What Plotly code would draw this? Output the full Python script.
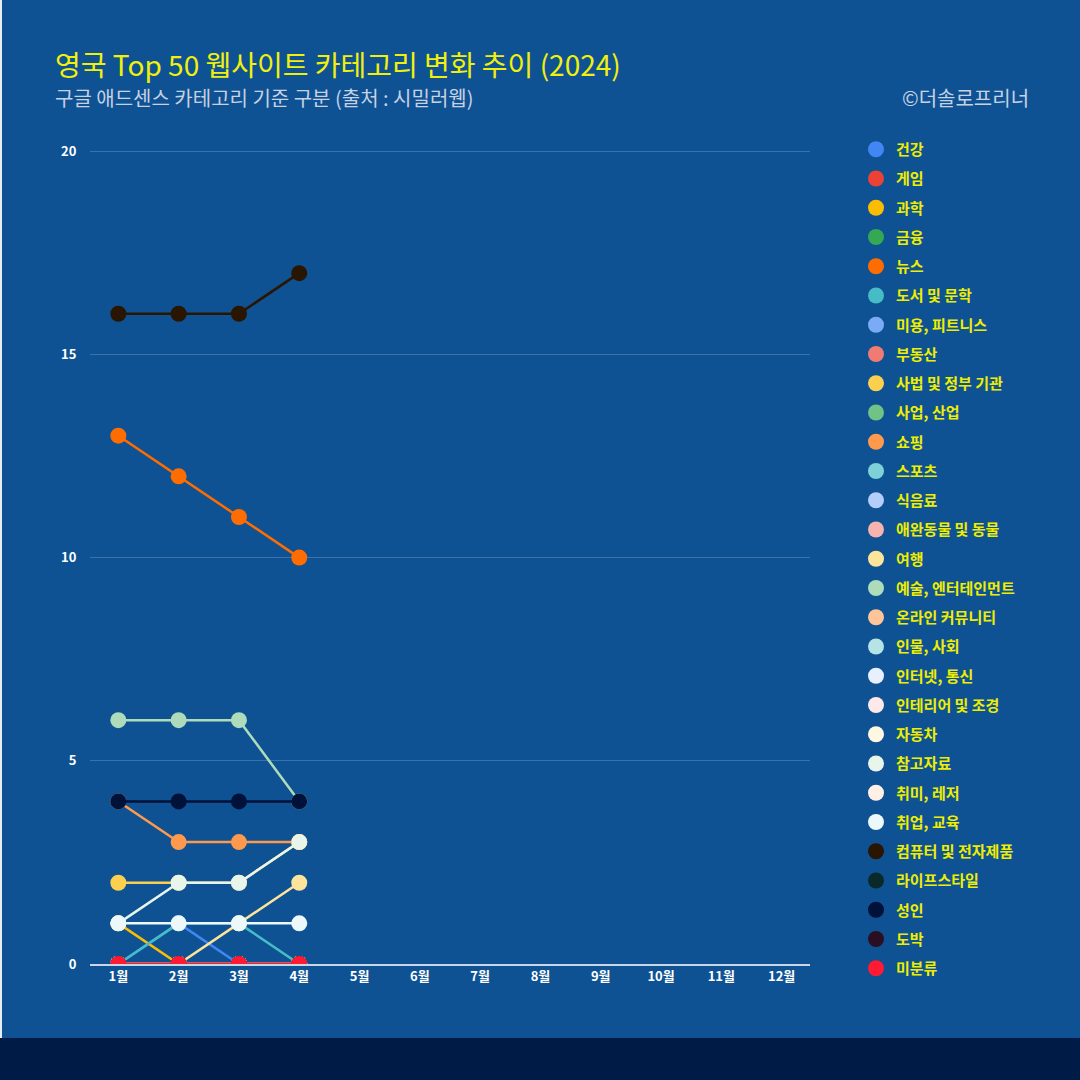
import plotly.graph_objects as go

months = ["1월", "2월", "3월", "4월", "5월", "6월", "7월", "8월", "9월", "10월", "11월", "12월"]

categories = ["건강", "게임", "과학", "금융", "뉴스", "도서 및 문학", "미용, 피트니스", "부동산",
              "사법 및 정부 기관", "사업, 산업", "쇼핑", "스포츠", "식음료", "애완동물 및 동물", "여행",
              "예술, 엔터테인먼트", "온라인 커뮤니티", "인물, 사회", "인터넷, 통신", "인테리어 및 조경",
              "자동차", "참고자료", "취미, 레저", "취업, 교육", "컴퓨터 및 전자제품", "라이프스타일",
              "성인", "도박", "미분류"]

colors = ["#4285F4", "#EA4335", "#FBBC04", "#34A853", "#FF6D01", "#46BDC6", "#7BAAF7", "#F07B72",
          "#FCD04F", "#71C287", "#FF994D", "#7ED1D7", "#B3CEFB", "#F7B4AE", "#FDE49B",
          "#AEDCBA", "#FFC599", "#B5E3E6", "#E8F0FE", "#FDE9E8",
          "#FEF8E3", "#E8F5EB", "#FFF0E6", "#ECF8F9", "#2A1500", "#0A2A2A",
          "#00113A", "#2A0F22", "#FF1A33"]

# values for Jan-Apr (later months have no data yet)
values = {
    "건강": [0, 1, 0, 0],
    "게임": [0, 0, 0, 0],
    "과학": [1, 0, 0, 0],
    "금융": [0, 0, 0, 0],
    "뉴스": [13, 12, 11, 10],
    "도서 및 문학": [0, 1, 1, 0],
    "미용, 피트니스": [0, 0, 0, 0],
    "부동산": [0, 0, 0, 0],
    "사법 및 정부 기관": [2, 2, 2, 3],
    "사업, 산업": [0, 0, 0, 0],
    "쇼핑": [4, 3, 3, 3],
    "스포츠": [0, 0, 0, 0],
    "식음료": [0, 0, 0, 0],
    "애완동물 및 동물": [0, 0, 0, 0],
    "여행": [0, 0, 1, 2],
    "예술, 엔터테인먼트": [6, 6, 6, 4],
    "온라인 커뮤니티": [0, 0, 0, 0],
    "인물, 사회": [0, 0, 0, 0],
    "인터넷, 통신": [0, 0, 0, 0],
    "인테리어 및 조경": [0, 0, 0, 0],
    "자동차": [0, 0, 0, 0],
    "참고자료": [1, 2, 2, 3],
    "취미, 레저": [0, 0, 0, 0],
    "취업, 교육": [1, 1, 1, 1],
    "컴퓨터 및 전자제품": [16, 16, 16, 17],
    "라이프스타일": [0, 0, 0, 0],
    "성인": [4, 4, 4, 4],
    "도박": [0, 0, 0, 0],
    "미분류": [0, 0, 0, 0],
}

y_ticks = [0, 5, 10, 15, 20]

BG = "#0E5294"
FONT = "Noto Sans CJK KR"

fig = go.Figure()
for name, col in zip(categories, colors):
    vals = values[name]
    fig.add_trace(go.Scatter(
        x=months[:len(vals)], y=vals, mode="lines+markers", name=name,
        legendgroup=name, showlegend=False,
        line=dict(color=col, width=2.5),
        marker=dict(color=col, size=16),
        cliponaxis=True,
    ))
for name, col in zip(categories, colors):
    fig.add_trace(go.Scatter(
        x=[None], y=[None], mode="markers", name=name, legendgroup=name,
        showlegend=True, marker=dict(color=col, size=16),
    ))

L, R, T, B = 90, 270, 150, 116
PW = 1080 - L - R
PH = 1080 - T - B

def px_x(px):
    return (px - L) / PW

def px_y(py):
    return (1080 - B - py) / PH

fig.update_layout(
    width=1080, height=1080,
    margin=dict(l=L, r=R, t=T, b=B),
    paper_bgcolor=BG, plot_bgcolor=BG,
    font=dict(family=FONT, color="white"),
    showlegend=True,
    legend=dict(
        x=px_x(856), y=px_y(133), xanchor="left", yanchor="top",
        bgcolor="rgba(0,0,0,0)",
        font=dict(family=FONT, size=15, color="#EEEE00", weight="bold"),
        tracegroupgap=6.75, itemsizing="trace", maxheight=1000,
    ),
    xaxis=dict(
        categoryorder="array", categoryarray=months,
        range=[-0.47, 11.47], showgrid=False, zeroline=False,
        showline=True, linecolor="#C8D6E8", linewidth=1.5, layer="below traces",
        tickfont=dict(family=FONT, size=13, color="white", weight="bold"),
        ticks="", fixedrange=True,
    ),
    yaxis=dict(
        range=[0, 20.03], tickvals=y_ticks, showgrid=True,
        gridcolor="#3A72AE", gridwidth=1, zeroline=False, showline=False,
        tickfont=dict(family=FONT, size=13, color="white", weight="bold"),
        ticks="outside", ticklen=10, tickcolor="rgba(0,0,0,0)",
    ),
    annotations=[
        dict(text="영국 Top 50 웹사이트 카테고리 변화 추이 (2024)", xref="paper", yref="paper",
             x=px_x(53), y=px_y(64), xanchor="left", yanchor="middle", showarrow=False,
             font=dict(family=FONT, size=28, color="#F2F00A")),
        dict(text="구글 애드센스 카테고리 기준 구분 (출처 : 시밀러웹)", xref="paper", yref="paper",
             x=px_x(53), y=px_y(97), xanchor="left", yanchor="middle", showarrow=False,
             font=dict(family=FONT, size=20, color="#C6D1E2")),
        dict(text="©더솔로프리너", xref="paper", yref="paper",
             x=px_x(1031), y=px_y(97), xanchor="right", yanchor="middle", showarrow=False,
             font=dict(family=FONT, size=20, color="#C6D1E2")),
    ],
    shapes=[
        dict(type="rect", xref="paper", yref="paper", x0=px_x(0), x1=px_x(1080),
             y0=px_y(1080), y1=px_y(1038), fillcolor="#001B45", line=dict(width=0), layer="below"),
        dict(type="rect", xref="paper", yref="paper", x0=px_x(0), x1=px_x(2),
             y0=px_y(1038), y1=px_y(0), fillcolor="#E8EEF5", line=dict(width=0), layer="below"),
    ],
)

fig.write_html("out.html", config={"displayModeBar": False},
               post_script="document.body.style.margin='0';document.body.style.overflow='hidden';")
